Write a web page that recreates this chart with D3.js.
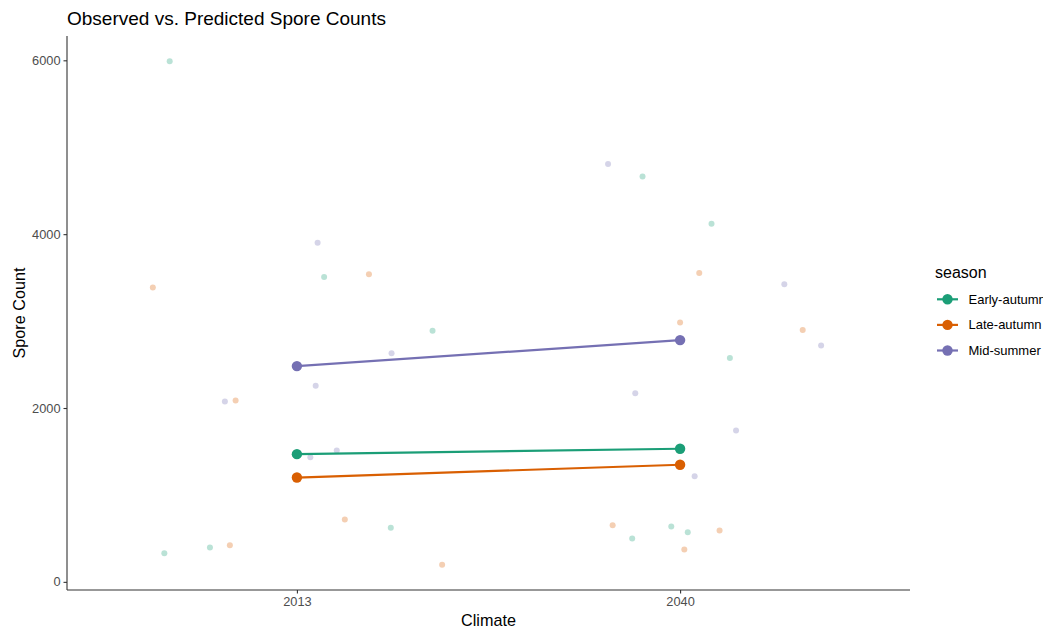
<!DOCTYPE html>
<html>
<head>
<meta charset="utf-8">
<script src="https://cdn.jsdelivr.net/npm/d3@7"></script>
<style>
  body { margin: 0; background: #fff; }
  svg { font-family: "Liberation Sans", Arial, sans-serif; display: block; }
</style>
</head>
<body>
<div id="chart"></div>
<script>
const width = 1043,
  height = 629;

const climates = ["2013", "2040"];
const seasons = ["Early-autumn", "Late-autumn", "Mid-summer"];
const seasonColors = ["#1B9E77", "#D95F02", "#7570B3"];
const yTicks = [0, 2000, 4000, 6000];

// observed spore counts (jittered points)
const obsSeason = [
  "Early-autumn", "Late-autumn", "Mid-summer", "Early-autumn", "Late-autumn", "Early-autumn",
  "Mid-summer", "Mid-summer", "Mid-summer", "Late-autumn", "Mid-summer", "Mid-summer",
  "Late-autumn", "Early-autumn", "Late-autumn", "Early-autumn", "Early-autumn", "Late-autumn",
  "Mid-summer", "Early-autumn", "Early-autumn", "Late-autumn", "Mid-summer", "Late-autumn",
  "Late-autumn", "Mid-summer", "Early-autumn", "Mid-summer", "Mid-summer", "Mid-summer",
  "Late-autumn", "Early-autumn", "Early-autumn", "Early-autumn", "Late-autumn", "Late-autumn"
];
const obsClimate = [
  "2013", "2013", "2013", "2013", "2013", "2013", "2013", "2013", "2013",
  "2013", "2013", "2013", "2013", "2013", "2013", "2013", "2013", "2013",
  "2040", "2040", "2040", "2040", "2040", "2040", "2040", "2040", "2040",
  "2040", "2040", "2040", "2040", "2040", "2040", "2040", "2040", "2040"
];
const obsJitter = [
  -0.332, -0.376, 0.054, 0.071, 0.188, 0.354, 0.247, 0.049, -0.188,
  -0.160, 0.104, 0.035, 0.125, 0.245, 0.379, -0.346, -0.227, -0.175,
  -0.188, -0.098, 0.082, 0.050, 0.272, 0.000, 0.320, 0.368, 0.130,
  -0.117, 0.146, 0.038, -0.176, -0.125, -0.023, 0.020, 0.103, 0.011
];
const obsValue = [
  5990, 3387, 3902, 3506, 3540, 2889, 2631, 2256, 2075,
  2087, 1511, 1434, 717, 622, 196, 329, 395, 421,
  4807, 4662, 4121, 3552, 3425, 2985, 2896, 2720, 2574,
  2171, 1741, 1215, 651, 498, 637, 571, 590, 372
];

// predicted counts per season, one value per climate
const predEarly = [1469, 1531];
const predLate = [1200, 1347];
const predMid = [2482, 2781];

const observed = obsValue.map((v, i) => ({
  season: obsSeason[i], climate: obsClimate[i], jitter: obsJitter[i], value: v
}));
const predicted = [predEarly, predLate, predMid].map((vals, i) => ({
  season: seasons[i],
  values: climates.map((c, j) => ({ climate: c, value: vals[j] }))
}));

const margin = { top: 36, right: 133, bottom: 39, left: 67 };

const svg = d3.select("#chart")
  .append("svg")
  .attr("width", width)
  .attr("height", height);

const color = d3.scaleOrdinal()
  .domain(seasons)
  .range(seasonColors);

const x = d3.scalePoint()
  .domain(climates)
  .range([margin.left, width - margin.right])
  .padding(0.6);

const yExt = d3.extent(observed, d => d.value);
const pad = (yExt[1] - yExt[0]) * 0.05;
const y = d3.scaleLinear()
  .domain([yExt[0] - pad, yExt[1] + pad])
  .range([height - margin.bottom, margin.top]);

// observed points
svg.append("g")
  .selectAll("circle")
  .data(observed)
  .join("circle")
  .attr("cx", d => x(d.climate) + d.jitter * x.step())
  .attr("cy", d => y(d.value))
  .attr("r", 3)
  .attr("fill", d => color(d.season))
  .attr("opacity", 0.3);

// predicted lines + points
const line = d3.line()
  .x(d => x(d.climate))
  .y(d => y(d.value));

const pg = svg.append("g");
pg.selectAll("path")
  .data(predicted)
  .join("path")
  .attr("d", d => line(d.values))
  .attr("fill", "none")
  .attr("stroke", d => color(d.season))
  .attr("stroke-width", 2.2);

pg.selectAll("g")
  .data(predicted)
  .join("g")
  .attr("fill", d => color(d.season))
  .selectAll("circle")
  .data(d => d.values)
  .join("circle")
  .attr("cx", d => x(d.climate))
  .attr("cy", d => y(d.value))
  .attr("r", 5.2);

// axes
const xAxis = svg.append("g")
  .attr("transform", `translate(0,${height - margin.bottom})`)
  .call(d3.axisBottom(x).tickSizeOuter(0).tickSize(3.5).tickPadding(3));
xAxis.select(".domain").attr("d", `M${margin.left},0H${width - margin.right}`);

const yAxis = svg.append("g")
  .attr("transform", `translate(${margin.left},0)`)
  .call(d3.axisLeft(y).tickValues(yTicks).tickSize(3.5).tickPadding(3).tickFormat(d3.format("d")));
yAxis.select(".domain").attr("d", `M0,${margin.top}V${height - margin.bottom}`);

svg.selectAll(".domain").attr("stroke", "#333").attr("stroke-width", 1.1);
svg.selectAll(".tick line").attr("stroke", "#333").attr("stroke-width", 1.1);
svg.selectAll(".tick text")
  .attr("fill", "#4D4D4D")
  .style("font-size", "12.8px")
  .style("font-family", "'Liberation Sans', Arial, sans-serif");

// titles
svg.append("text")
  .attr("x", margin.left)
  .attr("y", 24.5)
  .attr("font-size", 19)
  .text("Observed vs. Predicted Spore Counts");

svg.append("text")
  .attr("x", (margin.left + width - margin.right) / 2)
  .attr("y", 626)
  .attr("text-anchor", "middle")
  .attr("font-size", 16.2)
  .text("Climate");

svg.append("text")
  .attr("transform", `translate(24.5,${(margin.top + height - margin.bottom) / 2}) rotate(-90)`)
  .attr("text-anchor", "middle")
  .attr("font-size", 16.2)
  .text("Spore Count");

// legend
const legend = svg.append("g").attr("transform", "translate(935,0)");
legend.append("text")
  .attr("x", 0)
  .attr("y", 277.5)
  .attr("font-size", 16)
  .text("season");

const keys = legend.selectAll("g")
  .data(seasons)
  .join("g")
  .attr("transform", (d, i) => `translate(0,${299.3 + i * 25.6})`);
keys.append("line")
  .attr("x1", 2).attr("x2", 23)
  .attr("stroke", d => color(d))
  .attr("stroke-width", 2.2);
keys.append("circle")
  .attr("cx", 12.5)
  .attr("r", 5.2)
  .attr("fill", d => color(d));
keys.append("text")
  .attr("x", 33.5)
  .attr("y", 4.5)
  .attr("font-size", 13)
  .text(d => d);
</script>
</body>
</html>
